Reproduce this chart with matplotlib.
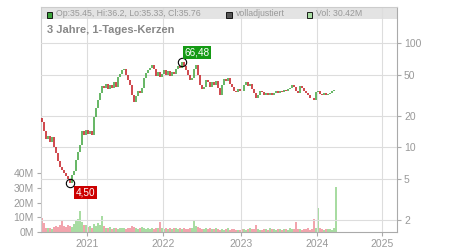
import numpy as np
import matplotlib
matplotlib.use("Agg")
import matplotlib.pyplot as plt
from matplotlib.patches import Rectangle
from matplotlib.ticker import FixedLocator, NullLocator

plt.rcParams["font.family"] = ["Liberation Sans", "DejaVu Sans"]

# ── Data (one value per candle slot) ──────────────────────────────────────────

first_open = 19.0
closes = [
    17.5, 14.5, 12.0, 12.8, 11.3, 12.5, 10.0, 8.8, 7.4, 6.5,
    6.0, 5.6, 5.3, 5.0, 4.50, 5.4, 5.9, 7.6, 9.0, 10.5,
    14.5, 13.2, 14.8, 13.5, 14.2, 13.0, 19.5, 24.0, 28.5, 33.0,
    39.0, 37.0, 40.5, 36.5, 39.5, 37.5, 42.0, 38.0, 47.0, 51.0,
    55.0, 57.0, 50.0, 44.0, 40.0, 32.0, 27.0, 31.0, 35.0, 33.5,
    37.0, 46.0, 52.0, 55.0, 58.0, 62.0, 56.0, 49.0, 53.0, 47.0,
    51.0, 55.0, 50.0, 54.0, 49.0, 53.0, 51.0, 57.0, 60.0, 58.0,
    66.48, 61.0, 55.0, 50.0, 44.0, 46.0, 57.0, 62.0, 50.0, 40.0,
    36.0, 38.0, 44.0, 42.0, 38.0, 42.0, 40.0, 43.0, 37.0, 32.0,
    40.0, 45.0, 43.0, 46.0, 41.0, 38.0, 35.0, 34.0, 36.0, 35.0,
    34.5, 40.0, 42.0, 39.0, 41.0, 36.0, 33.0, 29.5, 32.0, 35.0,
    34.0, 31.5, 33.0, 32.0, 33.5, 32.0, 33.0, 34.5, 33.5, 35.0,
    34.0, 35.5, 35.0, 36.0, 37.5, 39.5, 38.0, 35.0, 33.0, 38.5,
    37.0, 35.0, 33.0, 31.5, 30.0, 29.5, 28.5, 34.0, 35.0, 32.5,
    32.0, 33.0, 31.5, 32.5, 33.0, 34.5, 35.45, 35.76,
]
volumes_m = [
    9.5, 6.0, 3.0, 2.5, 2.8, 2.2, 3.5, 4.0, 3.2, 5.0,
    7.5, 4.0, 3.5, 5.0, 4.2, 3.5, 5.5, 7.5, 9.0, 14.0,
    7.0, 4.5, 5.0, 3.5, 4.0, 3.0, 5.5, 4.0, 6.0, 4.5,
    11.0, 4.0, 3.0, 2.5, 3.5, 2.0, 2.5, 3.0, 2.2, 2.8,
    3.0, 2.5, 2.0, 3.0, 2.5, 4.0, 3.5, 2.5, 2.0, 2.8,
    3.5, 2.5, 2.0, 3.0, 2.2, 2.5, 2.0, 3.0, 2.5, 6.5,
    2.5, 2.0, 3.0, 2.2, 2.5, 1.8, 2.5, 3.0, 2.0, 2.5,
    2.0, 2.5, 1.8, 2.2, 3.0, 2.5, 7.5, 4.0, 3.5, 2.5,
    2.0, 1.8, 2.5, 2.0, 3.0, 2.2, 1.8, 2.5, 2.0, 1.5,
    2.0, 1.5, 1.8, 2.5, 1.5, 1.8, 2.0, 1.5, 1.2, 1.5,
    1.8, 2.0, 1.5, 1.8, 2.5, 2.0, 1.8, 5.0, 2.0, 1.5,
    1.5, 1.8, 2.0, 1.5, 2.5, 1.8, 2.0, 1.5, 1.8, 2.0,
    1.5, 1.8, 2.0, 1.5, 2.5, 1.8, 2.2, 6.5, 2.0, 1.8,
    1.5, 2.0, 1.8, 2.5, 1.5, 2.0, 9.0, 2.5, 16.5, 3.0,
    2.0, 1.5, 2.2, 1.8, 2.0, 1.5, 2.5, 30.42,
]
last_high, last_low = 36.2, 35.33
candles_per_year = [23, 38, 39, 38, 10]   # 2020 .. 2024
year_labels = ["2021", "2022", "2023", "2024", "2025"]
slots_to_2025 = 22
price_ticks = [2, 5, 10, 20, 50, 100]
vol_ticks_m = [0, 10, 20, 30, 40]

UP, DOWN = "#3ca33a", "#c3161d"
VOL_UP, VOL_DOWN = "#a8dca2", "#f2a4ad"
GRID = "#dddddd"
TXT = "#999999"

# ── Prepare ───────────────────────────────────────────────────────────────────

closes = np.array(closes)
opens = np.concatenate([[first_open], closes[:-1]])
x = np.arange(len(closes))
up = closes >= opens
n = len(closes)

starts = np.cumsum(candles_per_year)[:-1] - 0.5
year_pos = list(starts) + [n + slots_to_2025]

# ── Figure ────────────────────────────────────────────────────────────────────

W, H = 450, 250
fig = plt.figure(figsize=(W / 100, H / 100), dpi=100)
rect = [41 / W, 18 / H, 356 / W, 225 / H]
ax_vol = fig.add_axes(rect)
ax = ax_vol.twinx()

# header band inside the frame
ax_vol.add_patch(Rectangle((0, 1 - 12 / 225), 1, 12 / 225, transform=ax_vol.transAxes,
                           color="#e3e3e3", lw=0, zorder=0.3))

# volume
ax_vol.bar(x, volumes_m, width=0.85, color=np.where(up, VOL_UP, VOL_DOWN), lw=0, zorder=1)
ax_vol.set_ylim(0, 153)
ax_vol.set_xlim(-0.5, 177.5)
ax_vol.yaxis.set_major_locator(FixedLocator(vol_ticks_m))
ax_vol.set_yticklabels([f"{v}M" for v in vol_ticks_m])
ax_vol.xaxis.set_major_locator(FixedLocator(year_pos))
ax_vol.set_xticklabels(year_labels)
ax_vol.tick_params(axis="both", length=3, color="#aaaaaa", labelcolor=TXT,
                   labelsize=7.5, pad=2)
ax_vol.set_axisbelow("line")
ax_vol.grid(True, axis="x", color=GRID, lw=0.8)
for side, c in [("left", "#cccccc"), ("top", "#cccccc"),
                ("right", "#aaaaaa"), ("bottom", "#aaaaaa")]:
    ax_vol.spines[side].set_color(c)
    ax_vol.spines[side].set_linewidth(0.8)

# candles
ax.set_yscale("log")
ax.vlines(x, opens, closes, colors=np.where(up, UP, DOWN), lw=1.1, zorder=2)
ax.set_ylim(1.533, 223.4)
ax.yaxis.set_major_locator(FixedLocator(price_ticks))
ax.yaxis.set_minor_locator(NullLocator())
ax.set_yticklabels([str(v) for v in price_ticks])
ax.tick_params(axis="y", length=3, color="#aaaaaa", labelcolor=TXT, labelsize=7.5, pad=2)
ax.set_axisbelow(True)
ax.grid(True, axis="y", color=GRID, lw=0.8)
for s in ax.spines.values():
    s.set_visible(False)

# extreme markers
i_hi = int(np.argmax(closes))
i_lo = int(np.argmin(closes))
for i, col, dy in [(i_hi, "#149a14", 6.5), (i_lo, "#cc0000", -6.5)]:
    ax.plot(x[i], closes[i], "o", ms=6, mfc="none", mec="black", mew=0.8, zorder=3)
    ax.annotate(f"{closes[i]:.2f}".replace(".", ","), (x[i], closes[i]),
                xytext=(11, dy), textcoords="offset points", ha="center", va="center",
                fontsize=7.2, color="white", zorder=4,
                bbox=dict(boxstyle="square,pad=0.15", fc=col, ec="none"))

# header texts
def fx(px):
    return px / W


def fy(py):
    return 1 - py / H


header = f"Op:{opens[-1]:.2f}, Hi:{last_high}, Lo:{last_low}, Cl:{closes[-1]:.2f}"
items = [(46.5, UP, header),
         (226.5, "#555555", "volladjustiert"),
         (306.5, VOL_UP, f"Vol: {volumes_m[-1]:.2f}M")]
for px, col, txt in items:
    fig.add_artist(Rectangle((fx(px), fy(17.5)), 5.5 / W, 5.5 / H, transform=fig.transFigure,
                             fc=col, ec="black", lw=0.6))
    fig.text(fx(px + 9), fy(13.3), txt, fontsize=6.3, color=TXT, va="center", ha="left")

fig.text(fx(47), fy(30), "3 Jahre, 1-Tages-Kerzen", fontsize=8, weight="bold",
         color="#888888", va="center", ha="left")

fig.savefig("out.png", dpi=100)
plt.close(fig)
